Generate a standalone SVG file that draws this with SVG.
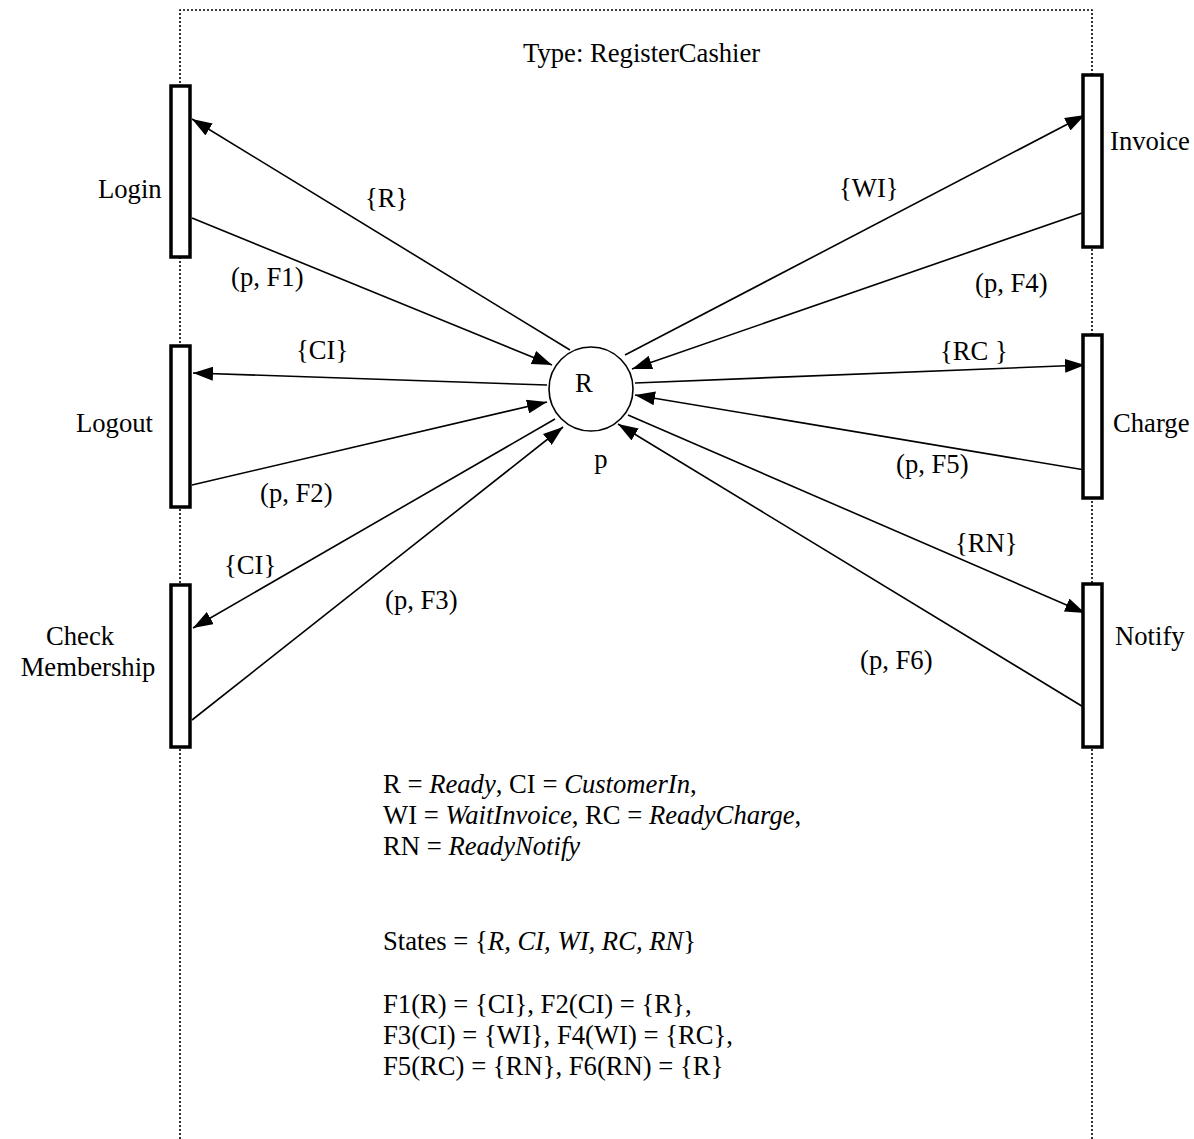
<svg xmlns="http://www.w3.org/2000/svg" width="1194" height="1139" viewBox="0 0 1194 1139">
<style>
text{font-family:"Liberation Serif","Times New Roman",serif;font-size:26.67px;fill:#000}
.it{font-style:italic}
.box{fill:#fff;stroke:#000;stroke-width:3.5}
.arc{stroke:#000;stroke-width:1.6;fill:none}
.arr{marker-end:url(#ah)}
.frame{fill:none;stroke:#000;stroke-width:1.6;stroke-dasharray:2,2}
</style>
<defs>
<marker id="ah" markerUnits="userSpaceOnUse" markerWidth="20" markerHeight="14" refX="20" refY="7" orient="auto">
<path d="M0,0 L20,7 L0,14 z" fill="#000"/>
</marker>
</defs>
<rect width="1194" height="1139" fill="#fff"/>
<path class="frame" d="M180,1139 V10 H1092 V1139"/>
<text x="523" y="62">Type: RegisterCashier</text>
<g id="connectors">
<line class="arc arr" x1="570" y1="350" x2="192" y2="119"/>
<line class="arc arr" x1="192" y1="218" x2="552" y2="365"/>
<line class="arc arr" x1="547" y1="385" x2="193" y2="373"/>
<line class="arc arr" x1="192" y1="485" x2="547" y2="402"/>
<line class="arc arr" x1="555" y1="419" x2="193" y2="628"/>
<line class="arc arr" x1="192" y1="720" x2="563" y2="427"/>
<line class="arc arr" x1="625" y1="355" x2="1085" y2="115"/>
<line class="arc arr" x1="1085" y1="212" x2="632" y2="369"/>
<line class="arc arr" x1="635" y1="383" x2="1085" y2="365"/>
<line class="arc arr" x1="1085" y1="470" x2="635" y2="395"/>
<line class="arc arr" x1="628" y1="415" x2="1085" y2="613"/>
<line class="arc arr" x1="1085" y1="708" x2="618" y2="424"/>
<text x="365" y="207">{R}</text>
<text x="231" y="286">(p, F1)</text>
<text x="296" y="359">{CI}</text>
<text x="260" y="502">(p, F2)</text>
<text x="224" y="574">{CI}</text>
<text x="385" y="609">(p, F3)</text>
<text x="839" y="197">{WI}</text>
<text x="975" y="292">(p, F4)</text>
<text x="940" y="360">{RC }</text>
<text x="896" y="473">(p, F5)</text>
<text x="955" y="552">{RN}</text>
<text x="860" y="669">(p, F6)</text>
</g>
<g id="place-p">
<circle cx="591" cy="389" r="42" fill="#fff" stroke="#000" stroke-width="1.6"/>
<text x="584" y="392" text-anchor="middle">R</text>
<text x="601" y="468" text-anchor="middle">p</text>
</g>
<g id="t-login"><rect class="box" x="171" y="86" width="19" height="171"/><text x="98" y="198">Login</text></g>
<g id="t-logout"><rect class="box" x="171" y="346" width="19" height="161"/><text x="76" y="432">Logout</text></g>
<g id="t-check"><rect class="box" x="171" y="585" width="19" height="162"/><text x="80" y="645" text-anchor="middle">Check</text><text x="88" y="676" text-anchor="middle">Membership</text></g>
<g id="t-invoice"><rect class="box" x="1083" y="75" width="19" height="172"/><text x="1110" y="150">Invoice</text></g>
<g id="t-charge"><rect class="box" x="1083" y="335" width="19" height="163"/><text x="1113" y="432">Charge</text></g>
<g id="t-notify"><rect class="box" x="1083" y="584" width="19" height="163"/><text x="1115" y="645">Notify</text></g>
<g id="legend">
<text x="383" y="793">R = <tspan class="it">Ready</tspan>, CI = <tspan class="it">CustomerIn</tspan>,</text>
<text x="383" y="824">WI = <tspan class="it">WaitInvoice</tspan>, RC = <tspan class="it">ReadyCharge</tspan>,</text>
<text x="383" y="855">RN = <tspan class="it">ReadyNotify</tspan></text>
<text x="383" y="950">States = {<tspan class="it">R, CI, WI, RC, RN</tspan>}</text>
<text x="383" y="1013">F1(R) = {CI}, F2(CI) = {R},</text>
<text x="383" y="1044">F3(CI) = {WI}, F4(WI) = {RC},</text>
<text x="383" y="1075">F5(RC) = {RN}, F6(RN) = {R}</text>
</g>
</svg>
